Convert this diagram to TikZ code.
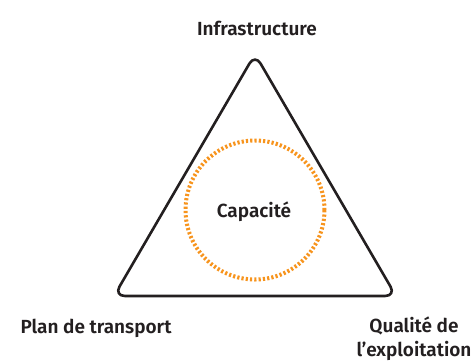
\documentclass[tikz,border=0pt]{standalone}
\usepackage{fontspec}
\setmainfont{Fira Sans}[BoldFont={Fira Sans SemiBold}]
\definecolor{orng}{HTML}{F7941D}
\definecolor{dk}{HTML}{231F20}
\begin{document}
\begin{tikzpicture}[x=1pt,y=-1pt,
  lbl/.style={font=\fontsize{19}{23.5}\selectfont\bfseries, text=dk, align=center, inner sep=0pt}]
\useasboundingbox (0,0) rectangle (475,360);
\coordinate (A) at (255,54);
\coordinate (B) at (114,296);
\coordinate (C) at (396,296);
\draw[dk, line width=2.6pt, rounded corners=11pt, line join=round] (A) -- (C) -- (B) -- cycle;
\node[circle, minimum size=139pt, draw=orng, line width=4pt, dash pattern=on 2.2pt off 2.1pt, inner sep=0pt] (cap) at (255,210) {};
\node[lbl] (capt) at (254,212) {Capacité};
\node[lbl] (infra) at (257,28) {Infrastructure};
\node[lbl] (plan) at (96,328) {Plan de transport};
\node[lbl, anchor=north] (qual) at (414,317) {Qualité de\\l’exploitation};
\end{tikzpicture}
\end{document}
